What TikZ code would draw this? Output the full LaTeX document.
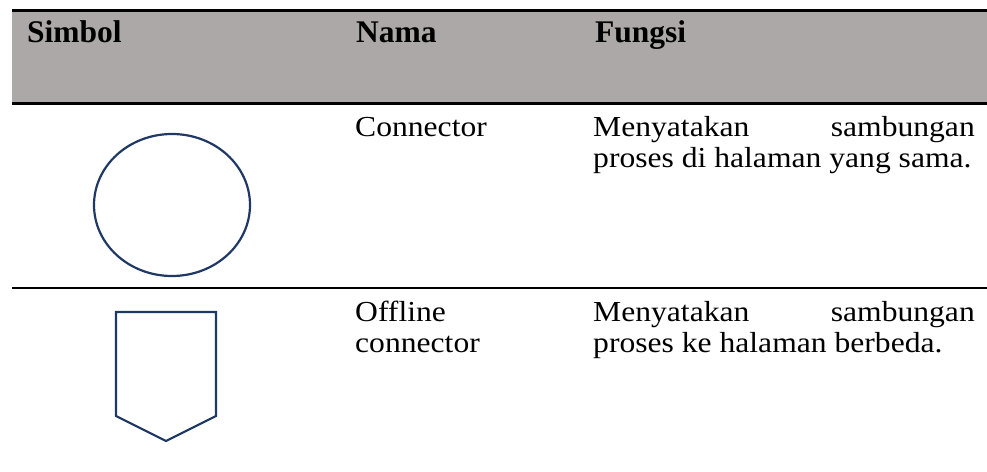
\documentclass[tikz,border=0pt]{standalone}
\usepackage{fontspec}
\setmainfont{Liberation Serif}
\usetikzlibrary{shapes.geometric}
\definecolor{hdrgray}{RGB}{172,168,167}
\definecolor{symnavy}{RGB}{32,56,100}
\newcommand{\bodytxt}[1]{\scalebox{1.09}[1]{#1}}
\newcommand{\hdrtxt}[1]{\scalebox{1.0}[1]{\textbf{#1}}}
\begin{document}
\begin{tikzpicture}[x=1pt,y=-1pt,
  txt/.style={anchor=base west,inner sep=0pt,font=\fontsize{29}{31}\selectfont},
  txtr/.style={anchor=base east,inner sep=0pt,font=\fontsize{29}{31}\selectfont},
  hdr/.style={anchor=base west,inner sep=0pt,font=\fontsize{31.5}{33}\selectfont},
  rule/.style={line width=2.4pt,black},
  sym/.style={draw=symnavy,line width=2.2pt}]
\useasboundingbox (0,0) rectangle (987,471);
% header
\fill[hdrgray] (12,10) rectangle (987,103);
\draw[line width=3pt] (12,10) -- (987,10);
\draw[line width=3pt] (12,103.5) -- (987,103.5);
\node[hdr] (h1) at (27,42) {\hdrtxt{Simbol}};
\node[hdr] (h2) at (356,42) {\hdrtxt{Nama}};
\node[hdr] (h3) at (595,42) {\hdrtxt{Fungsi}};
% row 1
\node[sym,ellipse,minimum width=156pt,minimum height=142pt,inner sep=0pt] (circ) at (172,205) {};
\node[txt] (n1) at (355,136) {\bodytxt{Connector}};
\node[txt] (f1a) at (593,136) {\bodytxt{Menyatakan}};
\node[txtr] (f1b) at (975,136) {\bodytxt{sambungan}};
\node[txt] (f1c) at (593,167) {\bodytxt{proses di halaman yang sama.}};
\draw[rule] (12,288) -- (987,288);
% row 2
\draw[sym,line join=miter] (116,312) -- (216,312) -- (216,416) -- (166,441) -- (116,416) -- cycle;
\node[txt] (n2a) at (355,321) {\bodytxt{Offline}};
\node[txt] (n2b) at (355,352) {\bodytxt{connector}};
\node[txt] (f2a) at (593,321) {\bodytxt{Menyatakan}};
\node[txtr] (f2b) at (975,321) {\bodytxt{sambungan}};
\node[txt] (f2c) at (593,352) {\bodytxt{proses ke halaman berbeda.}};
\end{tikzpicture}
\end{document}
